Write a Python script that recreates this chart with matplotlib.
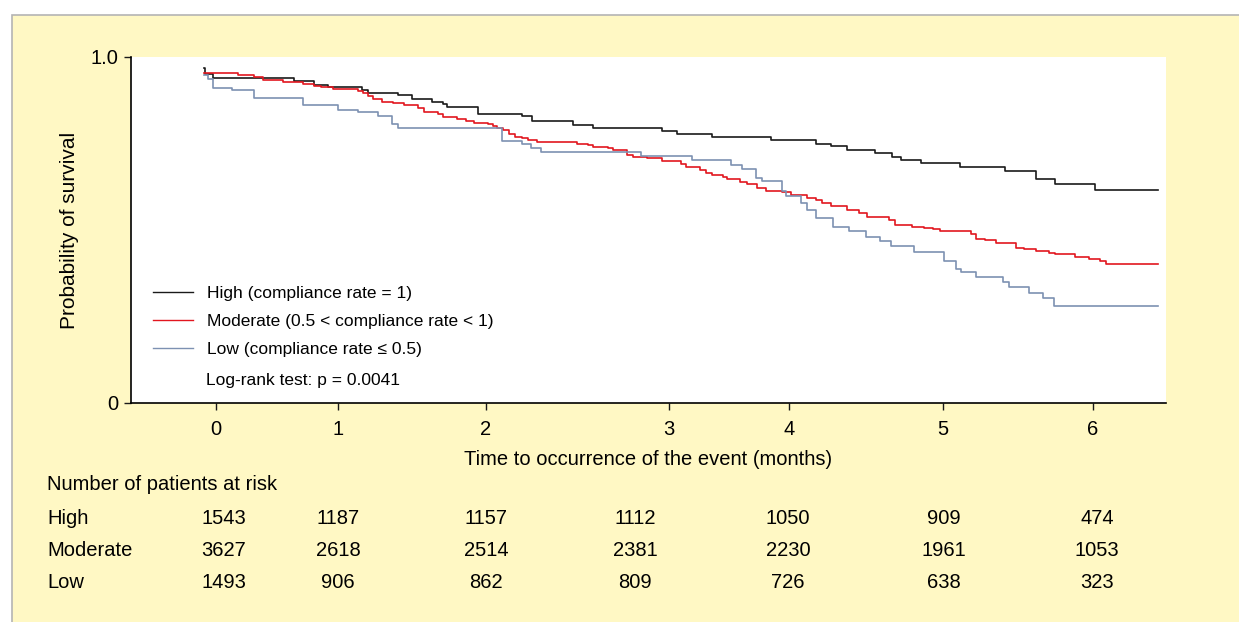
import numpy as np
import matplotlib
matplotlib.use('Agg')
import matplotlib.pyplot as plt
from matplotlib.patches import Rectangle

plt.rcParams['font.family'] = ['Liberation Sans', 'DejaVu Sans']

# Kaplan-Meier steps: time (months) and survival after each drop
high_t = [-0.10, -0.09, -0.025, 0.639, 0.803, 0.918, 1.162, 1.203, 1.405, 1.50,
          1.635, 1.709, 1.736, 1.946, 2.197, 2.251, 2.475, 2.585, 2.962, 3.067,
          3.358, 3.85, 4.175, 4.273, 4.377, 4.558, 4.669, 4.727, 4.857, 5.113,
          5.413, 5.62, 5.747, 6.013]
high_s = [0.968, 0.951, 0.938, 0.932, 0.919, 0.912, 0.905, 0.897, 0.889, 0.878,
          0.870, 0.864, 0.855, 0.836, 0.829, 0.815, 0.803, 0.794, 0.786, 0.777,
          0.768, 0.761, 0.749, 0.742, 0.730, 0.723, 0.711, 0.701, 0.693, 0.681,
          0.670, 0.647, 0.633, 0.616]

mod_t = [-0.10, 0.18, 0.311, 0.385, 0.549, 0.713, 0.803, 0.861, 0.959, 1.135,
         1.169, 1.203, 1.236, 1.297, 1.372, 1.446, 1.541, 1.581, 1.676, 1.709,
         1.804, 1.865, 1.919, 2.011, 2.038, 2.06, 2.093, 2.126, 2.158, 2.197,
         2.23, 2.279, 2.497, 2.557, 2.585, 2.667, 2.694, 2.77, 2.803, 2.88,
         2.962, 3.10, 3.142, 3.258, 3.308, 3.358, 3.45, 3.483, 3.592, 3.65,
         3.733, 3.808, 3.942, 4.013, 4.117, 4.175, 4.214, 4.273, 4.377, 4.455,
         4.506, 4.649, 4.688, 4.799, 4.877, 4.935, 4.981, 5.187, 5.22, 5.28,
         5.353, 5.487, 5.54, 5.62, 5.707, 5.747, 5.88, 5.973, 6.047, 6.087]
mod_s = [0.953, 0.947, 0.943, 0.934, 0.928, 0.921, 0.916, 0.912, 0.907, 0.902,
         0.895, 0.887, 0.878, 0.871, 0.866, 0.860, 0.853, 0.842, 0.835, 0.827,
         0.821, 0.815, 0.810, 0.805, 0.801, 0.796, 0.790, 0.778, 0.770, 0.765,
         0.760, 0.753, 0.749, 0.746, 0.741, 0.736, 0.731, 0.717, 0.712, 0.707,
         0.700, 0.691, 0.683, 0.673, 0.666, 0.659, 0.654, 0.648, 0.640, 0.633,
         0.622, 0.614, 0.610, 0.600, 0.592, 0.587, 0.577, 0.569, 0.558, 0.548,
         0.538, 0.529, 0.514, 0.510, 0.505, 0.502, 0.497, 0.488, 0.475, 0.471,
         0.462, 0.448, 0.444, 0.440, 0.434, 0.431, 0.423, 0.417, 0.410, 0.402]

low_t = [-0.10, -0.066, -0.025, 0.131, 0.311, 0.713, 1.0, 1.135, 1.27, 1.365,
         1.405, 2.087, 2.197, 2.246, 2.301, 2.847, 3.192, 3.517, 3.608, 3.725,
         3.775, 3.942, 3.975, 4.078, 4.117, 4.175, 4.286, 4.39, 4.5, 4.591,
         4.662, 4.812, 5.007, 5.087, 5.12, 5.22, 5.40, 5.44, 5.573, 5.667, 5.74]
low_s = [0.948, 0.936, 0.911, 0.905, 0.881, 0.860, 0.847, 0.841, 0.829, 0.806,
         0.794, 0.758, 0.749, 0.738, 0.726, 0.715, 0.702, 0.688, 0.676, 0.651,
         0.641, 0.614, 0.599, 0.577, 0.558, 0.534, 0.508, 0.496, 0.481, 0.469,
         0.454, 0.437, 0.411, 0.388, 0.379, 0.365, 0.351, 0.336, 0.319, 0.303, 0.281]

end_t = 6.43

labels = ['High (compliance rate = 1)',
          'Moderate (0.5 < compliance rate < 1)',
          'Low (compliance rate \u2264 0.5)']
colors = ['#1a1a1a', '#e2161f', '#7d91b2']
pvalue_text = 'Log-rank test: p = 0.0041'

month_ticks = [0, 1, 2, 3, 4, 5, 6]
risk_groups = ['High', 'Moderate', 'Low']
risk_high = [1543, 1187, 1157, 1112, 1050, 909, 474]
risk_mod = [3627, 2618, 2514, 2381, 2230, 1961, 1053]
risk_low = [1493, 906, 862, 809, 726, 638, 323]

# the printed axis is not evenly spaced: pixel position of each month tick
W, H = 1239, 622
knot_m = [-1, 0, 1, 2, 3, 4, 5, 6, 7]
knot_p = [94, 216, 338, 486, 669, 789, 943, 1093, 1243]


def fwd(m):
    return np.interp(m, knot_m, knot_p)


def inv(p):
    return np.interp(p, knot_p, knot_m)


fig = plt.figure(figsize=(W / 100, H / 100), dpi=100, facecolor='white')
fig.patches.append(Rectangle((12 / W, -0.1), 1.2, 1.1 - 15 / H,
                             transform=fig.transFigure, facecolor='#fff8c4',
                             edgecolor='#b4b4b4', linewidth=1.2, zorder=-5))

ax = fig.add_axes([131 / W, 1 - 403 / H, (1166 - 131) / W, (403 - 57) / H])
ax.set_zorder(2)
ax.set_facecolor('white')
ax.set_xscale('function', functions=(fwd, inv))

for t, s, c, lab in zip([high_t, mod_t, low_t], [high_s, mod_s, low_s], colors, labels):
    ax.step(t + [end_t], s + [s[-1]], where='post', color=c, lw=1.2, label=lab)

ax.set_xlim(inv(131), inv(1166))
ax.set_ylim(0, 1)
ax.set_xticks(month_ticks)
ax.set_xticklabels([str(m) for m in month_ticks])
ax.set_yticks([0, 1])
ax.set_yticklabels(['0', '1.0'])
ax.xaxis.set_minor_locator(matplotlib.ticker.NullLocator())
ax.tick_params(axis='both', labelsize=14.5, width=1, length=5, color='#1a1a1a')
ax.tick_params(axis='x', pad=7)
ax.tick_params(axis='y', pad=4)
for side in ['top', 'right']:
    ax.spines[side].set_visible(False)
for side in ['left', 'bottom']:
    ax.spines[side].set_linewidth(1.2)

ax.set_ylabel('Probability of survival', fontsize=15)
ax.yaxis.set_label_coords((79 - 131) / (1166 - 131), 0.5)
ax.set_xlabel('Time to occurrence of the event (months)', fontsize=14.5)
ax.xaxis.set_label_coords(0.5, (403 - 450) / (403 - 57))

leg = ax.legend(loc='upper left', bbox_to_anchor=((153 - 131) / 1035, (403 - 286) / 346),
                frameon=False, fontsize=12.5, handlelength=2.3, handletextpad=0.8,
                labelspacing=0.75, borderpad=0, borderaxespad=0)
for line in leg.get_lines():
    line.set_linewidth(1.0)
ax.text((206 - 131) / 1035, (403 - 381) / 346, pvalue_text, transform=ax.transAxes,
        fontsize=12.5, va='center', ha='left')

# numbers at risk table
col_px = [224, 338, 486, 635, 788, 944, 1097]
row_px = [518, 551, 583]
fig.text(47 / W, 1 - 485 / H, 'Number of patients at risk', fontsize=14.5, va='center')
for name, counts, y in zip(risk_groups, [risk_high, risk_mod, risk_low], row_px):
    fig.text(47 / W, 1 - y / H, name, fontsize=14.5, va='center')
    for n, x in zip(counts, col_px):
        fig.text(x / W, 1 - y / H, str(n), fontsize=14.5, va='center', ha='center')

fig.savefig('out.png', dpi=100, facecolor=fig.get_facecolor())
